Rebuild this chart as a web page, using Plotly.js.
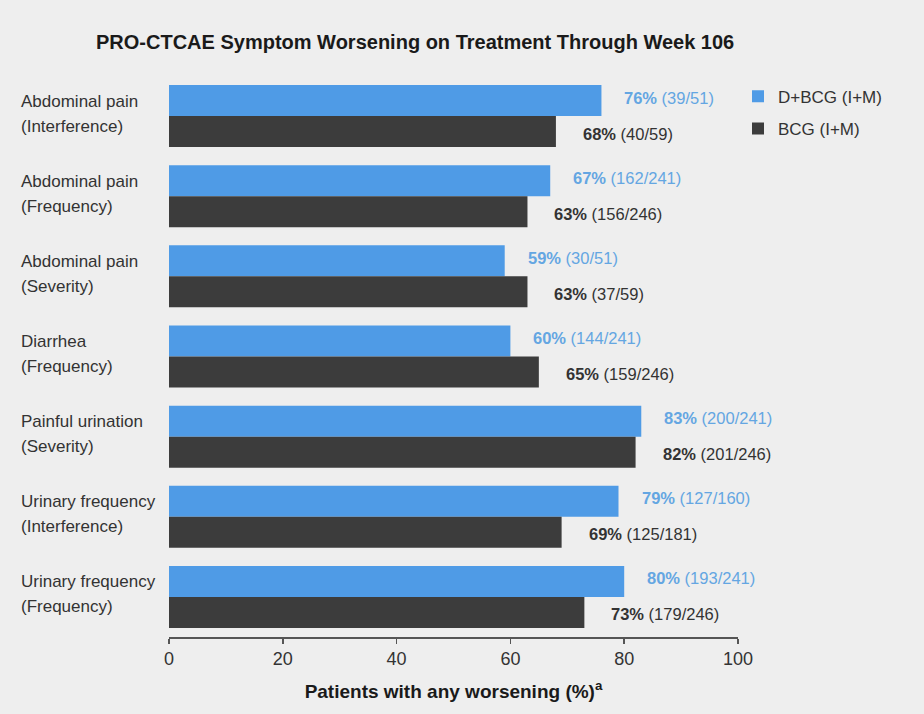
<!DOCTYPE html>
<html>
<head>
<meta charset="utf-8">
<script src="https://cdn.plot.ly/plotly-3.0.1.min.js"></script>
<style>
  html, body { margin: 0; padding: 0; background: #eeeeee; }
  #chart { width: 924px; height: 714px; }
</style>
</head>
<body>
<div id="chart"></div>
<script>
// Symptom categories (top to bottom)
const symptoms = [
  "Abdominal pain<br>(Interference)",
  "Abdominal pain<br>(Frequency)",
  "Abdominal pain<br>(Severity)",
  "Diarrhea<br>(Frequency)",
  "Painful urination<br>(Severity)",
  "Urinary frequency<br>(Interference)",
  "Urinary frequency<br>(Frequency)"
];

// D+BCG (I+M): percent with any worsening, and n/N
const dbcgPct = [76, 67, 59, 60, 83, 79, 80];
const dbcgN   = ["39/51", "162/241", "30/51", "144/241", "200/241", "127/160", "193/241"];

// BCG (I+M): percent with any worsening, and n/N
const bcgPct = [68, 63, 63, 65, 82, 69, 73];
const bcgN   = ["40/59", "156/246", "37/59", "159/246", "201/246", "125/181", "179/246"];

const xTicks = [0, 20, 40, 60, 80, 100];

const FONT = "'Liberation Sans', Arial, sans-serif";
const BLUE = "#4f9be6";
const BLUE_TEXT = "#64a6e2";
const DARK = "#3c3c3c";
const DARK_TEXT = "#333333";
const BAR_W = 0.387;

const pos = symptoms.map((_, i) => i);

const traces = [
  {
    type: "bar", orientation: "h", name: "D+BCG (I+M)",
    x: dbcgPct, y: pos, width: BAR_W, offset: -BAR_W,
    marker: { color: BLUE }, legendgroup: "a", hoverinfo: "skip"
  },
  {
    type: "bar", orientation: "h", name: "BCG (I+M)",
    x: bcgPct, y: pos, width: BAR_W, offset: 0,
    marker: { color: DARK }, legendgroup: "b", hoverinfo: "skip"
  }
];

const annotations = [];
// Category labels, left aligned in the margin, two lines each with wider leading
symptoms.forEach((s, i) => {
  s.split("<br>").forEach((line, j) => {
    annotations.push({
      xref: "paper", yref: "y", x: -0.2636, y: i, yshift: j === 0 ? 15 : -10,
      xanchor: "left", yanchor: "middle", align: "left",
      text: line, showarrow: false,
      font: { family: FONT, size: 17, color: "#333333" }
    });
  });
});
// Value labels beside each bar
dbcgPct.forEach((v, i) => {
  annotations.push({
    xref: "x", yref: "y", x: v, y: i - BAR_W / 2, xshift: 21, yshift: 3,
    xanchor: "left", yanchor: "middle",
    text: "<b>" + v + "%</b> (" + dbcgN[i] + ")", showarrow: false,
    font: { family: FONT, size: 16.5, color: BLUE_TEXT }
  });
});
bcgPct.forEach((v, i) => {
  annotations.push({
    xref: "x", yref: "y", x: v, y: i + BAR_W / 2, xshift: 25, yshift: -2,
    xanchor: "left", yanchor: "middle",
    text: "<b>" + v + "%</b> (" + bcgN[i] + ")", showarrow: false,
    font: { family: FONT, size: 16.5, color: DARK_TEXT }
  });
});

const layout = {
  width: 924, height: 714,
  paper_bgcolor: "#eeeeee", plot_bgcolor: "#eeeeee",
  margin: { l: 169, r: 186, t: 76, b: 77 },
  barmode: "overlay",
  font: { family: FONT, color: "#333333" },
  title: {
    text: "<b>PRO-CTCAE Symptom Worsening on Treatment Through Week 106</b>",
    xref: "container", yref: "container", x: 96 / 924, xanchor: "left",
    y: 1 - 42 / 714, yanchor: "middle",
    font: { family: FONT, size: 20, color: "#1a1a1a" }
  },
  xaxis: {
    range: [0, 100], tickvals: xTicks, ticktext: xTicks.map(String),
    showgrid: false, zeroline: false, showline: true,
    linecolor: "#555555", linewidth: 1.5,
    ticks: "outside", ticklen: 5, tickwidth: 1.5, tickcolor: "#555555",
    tickfont: { family: FONT, size: 18, color: "#333333" },
    title: {
      text: "<b>Patients with any worsening (%)<sup>a</sup></b>",
      font: { family: FONT, size: 19, color: "#1a1a1a" }, standoff: 16
    },
    fixedrange: true
  },
  yaxis: {
    range: [6.5, -0.5], showticklabels: false, showgrid: false,
    zeroline: false, showline: false, ticks: "", fixedrange: true
  },
  showlegend: true,
  legend: {
    x: 1.0, xanchor: "left", y: 0.995, yanchor: "top",
    bgcolor: "rgba(0,0,0,0)", traceorder: "grouped", tracegroupgap: 7,
    font: { family: FONT, size: 17, color: "#333333" }
  },
  annotations: annotations
};

Plotly.newPlot("chart", traces, layout, { displayModeBar: false, staticPlot: true });
</script>
</body>
</html>
